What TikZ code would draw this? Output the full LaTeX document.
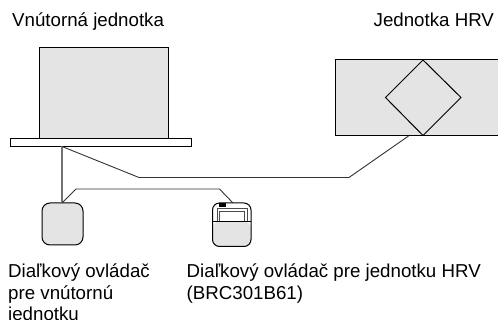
\documentclass[tikz,border=0pt]{standalone}
\usepackage{fontspec}
\setmainfont{Liberation Sans}
\tikzset{
  unitshape/.style={draw=black,line width=1pt,fill=unitgrey},
  wire/.style={draw=black!80,line width=0.9pt},
  label/.style={anchor=north west,align=left,inner sep=0pt,font=\fontsize{18.7}{21.6}\selectfont,text=black},
  box/.style={rectangle,inner sep=0pt,outer sep=0pt},
}
\definecolor{unitgrey}{HTML}{E4E4E4}
\begin{document}
\begin{tikzpicture}[x=1pt,y=-1pt]
\useasboundingbox (0,0) rectangle (498,320);
% indoor unit
\node[box,unitshape,minimum width=129pt,minimum height=91pt,anchor=north west] (indoor) at (39,47.5) {};
\node[box,draw=black,line width=1pt,fill=white,minimum width=181pt,minimum height=8pt,anchor=north west] (panel) at (10,138.5) {};
% HRV unit
\fill[unitgrey] (335,60) rectangle (498,136);
\draw[black,line width=1pt] (498,60) -- (335,60) -- (335,136) -- (498,136);
\coordinate (hrvtap) at (408.5,136);
\coordinate (diatop) at (423,60);
\coordinate (dialeft) at (385.5,97.5);
\coordinate (diabot) at (423,135.5);
\coordinate (diaright) at (461,97.5);
\draw[black,line width=1pt] (diatop) -- (diaright) -- (diabot) -- (dialeft) -- cycle;
% remotes
\node[box,unitshape,rounded corners=8pt,minimum width=41pt,minimum height=42pt,anchor=north west] (rc1) at (42,203) {};
\fill[unitgrey,rounded corners=7pt] (212.5,221.5) -- (212.5,246.5) -- (251,246.5) -- (251,221.5) -- cycle;
\draw[black,line width=1pt,rounded corners=7pt] (212.5,221.5) -- (212.5,203) -- (251,203) -- (251,246.5) -- (212.5,246.5) -- cycle;
\node[box,minimum width=38.5pt,minimum height=43.5pt,anchor=north west] (rc2) at (212.5,203) {};
\draw[black,line width=1pt] (212.5,221.5) -- (251,221.5);
\fill[black] (219,203.5) rectangle (226,207);
\draw[black!70,line width=0.9pt,fill=white] (217,221.5) -- (217,208.5) -- (247,208.5) -- (247,221.5);
\draw[black!70,line width=0.7pt] (219.5,221.5) -- (219.5,211) -- (244.5,211) -- (244.5,221.5);
% connectors
\coordinate (tap) at (62,146.5);
\coordinate (b1) at (139,177.5);
\coordinate (b2) at (349,177.5);
\coordinate (rc1top) at (62,203);
\coordinate (c1) at (76,189);
\coordinate (c2) at (219.5,189);
\coordinate (rc2top) at (233,203);
\draw[draw=black!55,line width=1.2pt] (tap) -- (rc1top);
\draw[wire] (tap) -- (b1) -- (b2) -- (hrvtap);
\draw[wire] (rc1top) -- (c1) -- (c2) -- (rc2top);
% labels
\node[label] (t1) at (12,12.5) {Vnútorná jednotka};
\node[label] (t2) at (373.5,12.5) {Jednotka HRV};
\node[label] (t3) at (8,263.5) {Diaľkový ovládač\\pre vnútornú\\jednotku};
\node[label] (t4) at (186.5,263.5) {Diaľkový ovládač pre jednotku HRV\\(BRC301B61)};
\end{tikzpicture}
\end{document}
